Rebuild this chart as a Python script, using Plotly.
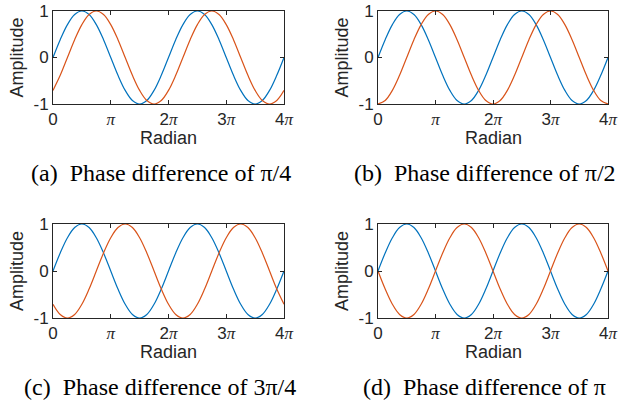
import plotly.graph_objects as go

# x positions in units of pi (0 .. 4pi, step pi/8)
x_pi = [i / 8 for i in range(33)]

blue_sin = [0, 0.383, 0.707, 0.924, 1, 0.924, 0.707, 0.383, 0, -0.383, -0.707, -0.924, -1, -0.924, -0.707, -0.383,
            0, 0.383, 0.707, 0.924, 1, 0.924, 0.707, 0.383, 0, -0.383, -0.707, -0.924, -1, -0.924, -0.707, -0.383, 0]
orange_a = [-0.707, -0.383, 0, 0.383, 0.707, 0.924, 1, 0.924, 0.707, 0.383, 0, -0.383, -0.707, -0.924, -1, -0.924,
            -0.707, -0.383, 0, 0.383, 0.707, 0.924, 1, 0.924, 0.707, 0.383, 0, -0.383, -0.707, -0.924, -1, -0.924, -0.707]
orange_b = [-1, -0.924, -0.707, -0.383, 0, 0.383, 0.707, 0.924, 1, 0.924, 0.707, 0.383, 0, -0.383, -0.707, -0.924,
            -1, -0.924, -0.707, -0.383, 0, 0.383, 0.707, 0.924, 1, 0.924, 0.707, 0.383, 0, -0.383, -0.707, -0.924, -1]
orange_c = [-0.707, -0.924, -1, -0.924, -0.707, -0.383, 0, 0.383, 0.707, 0.924, 1, 0.924, 0.707, 0.383, 0, -0.383,
            -0.707, -0.924, -1, -0.924, -0.707, -0.383, 0, 0.383, 0.707, 0.924, 1, 0.924, 0.707, 0.383, 0, -0.383, -0.707]
orange_d = [0, -0.383, -0.707, -0.924, -1, -0.924, -0.707, -0.383, 0, 0.383, 0.707, 0.924, 1, 0.924, 0.707, 0.383,
            0, -0.383, -0.707, -0.924, -1, -0.924, -0.707, -0.383, 0, 0.383, 0.707, 0.924, 1, 0.924, 0.707, 0.383, 0]

x_tickvals = [0, 1, 2, 3, 4]
PI = "<span style='font-family:Liberation Serif;font-style:italic'>π</span>"
x_ticktext = ["0", PI, "2" + PI, "3" + PI, "4" + PI]
y_tickvals = [-1, 0, 1]
y_ticktext = ["-1", "0", "1"]

captions = ["(a)  Phase difference of π/4", "(b)  Phase difference of π/2",
            "(c)  Phase difference of 3π/4", "(d)  Phase difference of π"]
orange_series = [orange_a, orange_b, orange_c, orange_d]

W, H = 618, 402
BLUE = "#0072BD"
ORANGE = "#D95319"
AX = "#262626"

# panel plot-area pixel boxes (left, right, top, bottom)
boxes = [(53, 284, 11, 104), (378, 608, 11, 104), (53, 284, 224, 318), (378, 608, 224, 318)]
cap_x = [161, 485, 160, 485]

fig = go.Figure()
for i, (orng, box) in enumerate(zip(orange_series, boxes)):
    xa = "x" if i == 0 else f"x{i+1}"
    ya = "y" if i == 0 else f"y{i+1}"
    fig.add_trace(go.Scatter(x=x_pi, y=blue_sin, mode="lines", line=dict(color=BLUE, width=1.2, shape="spline"),
                             xaxis=xa, yaxis=ya, showlegend=False))
    fig.add_trace(go.Scatter(x=x_pi, y=orng, mode="lines", line=dict(color=ORANGE, width=1.2, shape="spline"),
                             xaxis=xa, yaxis=ya, showlegend=False))
    l, r, t, b = box
    xkey = "xaxis" if i == 0 else f"xaxis{i+1}"
    ykey = "yaxis" if i == 0 else f"yaxis{i+1}"
    fig.update_layout(**{
        xkey: dict(domain=[l / W, r / W], anchor=ya, range=[0, 4], tickvals=x_tickvals, ticktext=x_ticktext,
                   ticks="inside", ticklen=4, tickcolor=AX, showline=True, linecolor=AX, linewidth=1,
                   mirror="allticks", showgrid=False, zeroline=False, automargin=False,
                   tickfont=dict(family="Liberation Sans", size=17, color=AX)),
        ykey: dict(domain=[1 - b / H, 1 - t / H], anchor=xa, range=[-1, 1], tickvals=y_tickvals,
                   ticktext=y_ticktext, ticks="inside", ticklen=4, tickcolor=AX, showline=True, linecolor=AX,
                   linewidth=1, mirror="allticks", showgrid=False, zeroline=False, automargin=False,
                   tickfont=dict(family="Liberation Sans", size=17, color=AX)),
    })
    fig.add_annotation(text="Amplitude", textangle=-90, x=(l - 36) / W, y=1 - ((t + b) / 2) / H,
                       xref="paper", yref="paper", showarrow=False, xanchor="center", yanchor="middle",
                       font=dict(family="Liberation Sans", size=18, color=AX))
    fig.add_annotation(text="Radian", x=((l + r) / 2) / W, y=1 - (b + 34) / H,
                       xref="paper", yref="paper", showarrow=False, xanchor="center", yanchor="middle",
                       font=dict(family="Liberation Sans", size=18, color=AX))
    fig.add_annotation(text=captions[i], x=cap_x[i] / W, y=1 - (b + 69) / H,
                       xref="paper", yref="paper", showarrow=False, xanchor="center", yanchor="middle",
                       font=dict(family="Liberation Serif", size=24, color="black"))

fig.update_layout(width=W, height=H, margin=dict(l=0, r=0, t=0, b=0),
                  paper_bgcolor="white", plot_bgcolor="white")
fig.write_html("out.html", config={"displayModeBar": False},
               post_script="document.body.style.margin='0px';document.body.style.overflow='hidden';")
